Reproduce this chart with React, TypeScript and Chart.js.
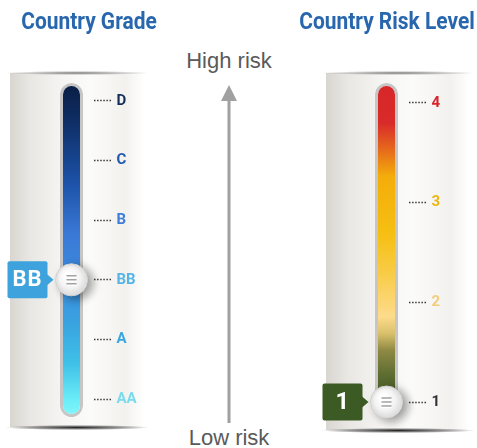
import React, { useEffect, useRef } from 'react';
import { Chart, registerables } from 'chart.js';
Chart.register(...registerables);

// ---- data ----
const gradeLabels = ['AA', 'A', 'BB', 'B', 'C', 'D'];
const gradeTicks = [0, 1, 2, 3, 4, 5];
const gradeRange = [-0.3, 5.3];
const currentGrade = 'BB';

const riskLabels = ['1', '2', '3', '4'];
const riskTicks = [1, 2, 3, 4];
const riskRange = [0.85, 4.2];
const currentRisk = 1;

// ---- styles ----
const gradeTickColors = ['#79dbeb', '#3aa6df', '#56b4e6', '#3e7ed9', '#2158ae', '#142e5c'];
const riskTickColors = ['#333333', '#f2cd7a', '#eeb60c', '#d6262c'];
const gradeStops: [number, string][] = [
  [0, '#0a1e44'], [0.1, '#0e2b60'], [0.3, '#1c52a8'], [0.45, '#3a78d6'],
  [0.6, '#3d8fe0'], [0.72, '#39a3e0'], [0.84, '#3fc1e8'], [0.95, '#6cedf8'], [1, '#86f6fb'],
];
const riskStops: [number, string][] = [
  [0, '#d7262a'], [0.12, '#d92b29'], [0.2, '#e66a1c'], [0.28, '#f4ad0a'], [0.45, '#f6bf12'],
  [0.58, '#f9cd4c'], [0.7, '#fddb8c'], [0.75, '#d9c06c'], [0.8, '#8f8a44'], [0.88, '#5a6a30'], [1, '#3e5524'],
];
const FONT_NARROW = "'Roboto', 'Liberation Sans', sans-serif";
const TITLE_COLOR = '#2867ad';

type PanelProps = {
  left: number;
  width: number;
  tickValues: number[];
  tickLabels: string[];
  tickColors: string[];
  range: number[];
  current: number;
  badgeText: string;
  badgeColor: string;
  badgeFont: string;
  stops: [number, string][];
  padLeft: number;
  padRight: number;
};

function Panel(p: PanelProps) {
  const ref = useRef<HTMLCanvasElement | null>(null);
  useEffect(() => {
    if (!ref.current) return;
    const handlePlugin = {
      id: 'handle',
      beforeDatasetDraw(chart: any, args: any) {
        if (args.index === 1) {
          const ctx = chart.ctx;
          ctx.save();
          ctx.shadowColor = 'rgba(0,0,0,0.38)';
          ctx.shadowBlur = 10;
          ctx.shadowOffsetX = 5;
          ctx.shadowOffsetY = 3;
        }
      },
      afterDatasetDraw(chart: any, args: any) {
        if (args.index === 1) chart.ctx.restore();
      },
      afterDatasetsDraw(chart: any) {
        const ctx = chart.ctx;
        const el = chart.getDatasetMeta(1).data[0];
        if (!el) return;
        const x = el.x, y = el.y;
        ctx.save();
        const g = ctx.createRadialGradient(x - 4, y - 5, 2, x, y, 16);
        g.addColorStop(0, '#ffffff');
        g.addColorStop(0.6, '#f3f3f3');
        g.addColorStop(1, '#d9d9d9');
        ctx.fillStyle = g;
        ctx.beginPath();
        ctx.arc(x, y, 15, 0, Math.PI * 2);
        ctx.fill();
        ctx.lineCap = 'round';
        for (const dy of [-4, 0, 4]) {
          ctx.strokeStyle = '#ffffff';
          ctx.lineWidth = 1.5;
          ctx.beginPath();
          ctx.moveTo(x - 4.5, y + dy + 1.2);
          ctx.lineTo(x + 4.5, y + dy + 1.2);
          ctx.stroke();
          ctx.strokeStyle = '#a3a3a3';
          ctx.beginPath();
          ctx.moveTo(x - 4.5, y + dy);
          ctx.lineTo(x + 4.5, y + dy);
          ctx.stroke();
        }
        const bw = 40, bh = 37;
        const right = x - 24;
        const leftX = right - bw;
        const top = y - bh / 2;
        ctx.fillStyle = p.badgeColor;
        ctx.beginPath();
        ctx.roundRect(leftX, top, bw, bh, 2);
        ctx.fill();
        ctx.beginPath();
        ctx.moveTo(right - 1, y - 6);
        ctx.lineTo(right + 6, y);
        ctx.lineTo(right - 1, y + 6);
        ctx.closePath();
        ctx.fill();
        ctx.fillStyle = '#ffffff';
        ctx.font = p.badgeFont;
        ctx.textAlign = 'center';
        ctx.textBaseline = 'middle';
        (ctx as any).letterSpacing = p.badgeText.length > 1 ? '1px' : '0px';
        ctx.fillText(p.badgeText, leftX + bw / 2, y + 1);
        ctx.restore();
      },
    };

    const chart = new Chart(ref.current, {
      type: 'bar',
      data: {
        labels: [''],
        datasets: [
          {
            type: 'bar',
            data: [[p.range[0], p.range[1]]] as any,
            backgroundColor: (ctx: any) => {
              const area = ctx.chart.chartArea;
              if (!area) return p.stops[0][1];
              const gr = ctx.chart.ctx.createLinearGradient(0, area.top, 0, area.bottom);
              p.stops.forEach(([o, c]) => gr.addColorStop(o, c));
              return gr;
            },
            borderColor: '#c6c6c6',
            borderWidth: 3,
            borderRadius: 12,
            borderSkipped: false,
            barPercentage: 23 / 44,
            categoryPercentage: 1,
            order: 1,
            clip: false as any,
          } as any,
          {
            type: 'line',
            data: [p.current],
            showLine: false,
            pointRadius: 16,
            pointHoverRadius: 16,
            pointBackgroundColor: '#ececec',
            pointBorderColor: '#d0d0d0',
            pointBorderWidth: 1,
            order: 0,
            clip: false as any,
          } as any,
        ],
      },
      options: {
        animation: false,
        responsive: false,
        events: [],
        layout: { padding: { left: p.padLeft, right: p.padRight, top: 83, bottom: 31 } },
        plugins: { legend: { display: false }, tooltip: { enabled: false }, title: { display: false } },
        scales: {
          x: { display: false },
          y: {
            position: 'right',
            min: p.range[0],
            max: p.range[1],
            afterBuildTicks: (s: any) => {
              s.ticks = p.tickValues.map((v) => ({ value: v }));
            },
            afterFit: (s: any) => {
              s.width = 60;
            },
            grid: {
              drawOnChartArea: false,
              drawTicks: true,
              tickLength: 18,
              tickColor: '#3a3a3a',
              tickWidth: 1.5,
              tickBorderDash: [1.5, 1.6],
            } as any,
            border: { display: false },
            ticks: {
              padding: 5,
              color: (c: any) => p.tickColors[c.index],
              font: { family: FONT_NARROW, weight: 'bold', size: 15 },
              callback: (v: any) => p.tickLabels[p.tickValues.indexOf(Number(v))] ?? '',
            },
          } as any,
        },
      },
      plugins: [handlePlugin],
    });
    return () => chart.destroy();
  }, []);
  return (
    <canvas
      ref={ref}
      width={p.width}
      height={448}
      style={{ position: 'absolute', left: p.left, top: 0, width: p.width, height: 448, zIndex: 2 }}
    />
  );
}

const panelBg =
  'linear-gradient(to right, #d9d6d1 0%, #e9e7e3 15%, #f5f4f2 38%, #fbfbfa 60%, #f2f1ee 86%, #ffffff 100%)';

function Backdrop({ left, width, top, bottom }: { left: number; width: number; top: number; bottom: number }) {
  return (
    <>
      <div style={{ position: 'absolute', left, top, width, height: bottom - top, background: panelBg, zIndex: 0 }} />
      <div
        style={{
          position: 'absolute', left: left - 4, top: top - 2, width: width + 8, height: 4, zIndex: 1,
          background: 'radial-gradient(ellipse at center, rgba(80,80,80,0.75) 0%, rgba(140,140,140,0.35) 50%, rgba(255,255,255,0) 72%)',
        }}
      />
      <div
        style={{
          position: 'absolute', left: left - 4, top: bottom - 2, width: width + 8, height: 5, zIndex: 1,
          background: 'radial-gradient(ellipse at center, rgba(25,25,25,0.95) 0%, rgba(70,70,70,0.55) 45%, rgba(255,255,255,0) 72%)',
        }}
      />
    </>
  );
}

export default function App() {
  const titleStyle: React.CSSProperties = {
    position: 'absolute', top: 7, fontFamily: FONT_NARROW, fontWeight: 'bold', fontSize: 23,
    color: TITLE_COLOR, whiteSpace: 'nowrap', transform: 'translateX(-50%) scaleX(0.91)', lineHeight: '30px', zIndex: 3,
  };
  const riskText: React.CSSProperties = {
    position: 'absolute', left: 229, transform: 'translateX(-50%)', fontFamily: "'Liberation Sans', Arial, sans-serif",
    fontSize: 22, color: '#5a5a5a', whiteSpace: 'nowrap', lineHeight: '26px', zIndex: 3,
  };
  return (
    <div style={{ position: 'fixed', left: 0, top: 0, width: 477, height: 448, overflow: 'hidden', background: '#ffffff' }}>
      <Backdrop left={10} width={134} top={73} bottom={427} />
      <Backdrop left={326} width={144} top={73} bottom={430} />
      <div style={{ ...titleStyle, left: 89 }}>Country Grade</div>
      <div style={{ ...titleStyle, left: 387 }}>Country Risk Level</div>
      <div style={{ ...riskText, top: 48 }}>High risk</div>
      <div style={{ ...riskText, top: 425 }}>Low risk</div>
      <svg width={477} height={448} style={{ position: 'absolute', left: 0, top: 0, zIndex: 3 }}>
        <line x1={229} y1={100} x2={229} y2={423} stroke="#a0a0a0" strokeWidth={3} />
        <polygon points="221,101 237,101 229,85" fill="#a0a0a0" />
      </svg>
      <Panel
        left={0}
        width={178}
        tickValues={gradeTicks}
        tickLabels={gradeLabels}
        tickColors={gradeTickColors}
        range={gradeRange}
        current={gradeLabels.indexOf(currentGrade)}
        badgeText={currentGrade}
        badgeColor="#3ea2dc"
        badgeFont={`bold 22px ${FONT_NARROW}`}
        stops={gradeStops}
        padLeft={49.5}
        padRight={24.5}
      />
      <Panel
        left={300}
        width={177}
        tickValues={riskTicks}
        tickLabels={riskLabels}
        tickColors={riskTickColors}
        range={riskRange}
        current={currentRisk}
        badgeText={String(currentRisk)}
        badgeColor="#3b5a24"
        badgeFont={`bold 24px ${FONT_NARROW}`}
        stops={riskStops}
        padLeft={64.5}
        padRight={8.5}
      />
    </div>
  );
}
